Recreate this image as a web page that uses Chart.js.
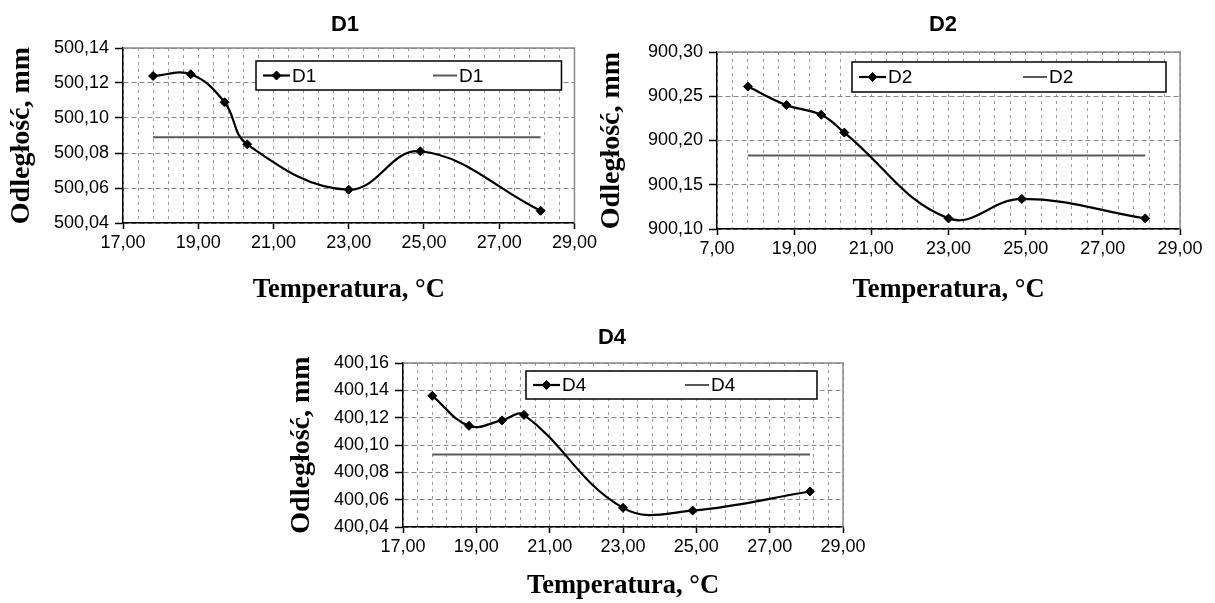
<!DOCTYPE html>
<html><head><meta charset="utf-8">
<script src="https://cdn.jsdelivr.net/npm/chart.js@4"></script>
<style>
html,body{margin:0;padding:0;background:#fff;width:1215px;height:603px;overflow:hidden}
.box{position:absolute}
canvas{display:block}
</style></head><body>
<div class="box" style="left:0px;top:0px"><canvas id="c1" width="600" height="310"></canvas></div>
<div class="box" style="left:595px;top:0px"><canvas id="c2" width="620" height="310"></canvas></div>
<div class="box" style="left:285px;top:310px"><canvas id="c4" width="600" height="293"></canvas></div>
<script>
// ---- data ----
const temperatures = [17.8, 18.8, 19.7, 20.3, 23.0, 24.9, 28.1];
const d1Values = [500.124, 500.125, 500.109, 500.085, 500.059, 500.081, 500.047];
const d1Mean = 500.089;
const d2Values = [900.261, 900.240, 900.229, 900.209, 900.112, 900.134, 900.112];
const d2Mean = 900.183;
const d4Values = [400.136, 400.114, 400.118, 400.122, 400.054, 400.052, 400.066];
const d4Mean = 400.093;
const xTickLabelsD1 = ["17,00", "19,00", "21,00", "23,00", "25,00", "27,00", "29,00"];
const xTickLabelsD2 = ["7,00", "19,00", "21,00", "23,00", "25,00", "27,00", "29,00"];
const xTickLabelsD4 = ["17,00", "19,00", "21,00", "23,00", "25,00", "27,00", "29,00"];
const yTickLabelsD1 = ["500,04", "500,06", "500,08", "500,10", "500,12", "500,14"];
const yTickLabelsD2 = ["900,10", "900,15", "900,20", "900,25", "900,30"];
const yTickLabelsD4 = ["400,04", "400,06", "400,08", "400,10", "400,12", "400,14", "400,16"];
const xAxisTitle = "Temperatura, °C";
const yAxisTitle = "Odległość, mm";

Chart.defaults.font.family = "'Liberation Sans', Arial, sans-serif";
Chart.defaults.color = '#000';

const framePlugin = {
  id: 'frame',
  beforeDatasetsDraw(chart) {
    const {ctx, chartArea: a} = chart;
    ctx.save();
    ctx.strokeStyle = '#8a8a8a';
    ctx.lineWidth = 1.5;
    ctx.beginPath();
    ctx.moveTo(a.left, a.top); ctx.lineTo(a.right, a.top); ctx.lineTo(a.right, a.bottom);
    ctx.stroke();
    ctx.restore();
  }
};

const boxLegendPlugin = {
  id: 'boxLegend',
  afterDatasetsDraw(chart, args, opts) {
    const {ctx, chartArea: a} = chart;
    const ds = chart.data.datasets;
    const x0 = a.left + opts.dl, x1 = a.right - opts.dr, y0 = a.top + opts.dt, h = opts.h;
    const cy = y0 + h / 2;
    ctx.save();
    ctx.fillStyle = '#fff';
    ctx.fillRect(x0, y0, x1 - x0, h);
    ctx.strokeStyle = '#000';
    ctx.lineWidth = 1.5;
    ctx.strokeRect(x0, y0, x1 - x0, h);
    ctx.font = "19px 'Liberation Sans', Arial, sans-serif";
    ctx.textBaseline = 'middle';
    ctx.textAlign = 'left';
    // item 1: series with marker
    let lx = x0 + 7;
    ctx.strokeStyle = ds[0].borderColor; ctx.lineWidth = 2.2;
    ctx.beginPath(); ctx.moveTo(lx, cy); ctx.lineTo(lx + 27, cy); ctx.stroke();
    ctx.fillStyle = '#000'; ctx.lineWidth = 1;
    Chart.helpers.drawPoint(ctx, {pointStyle: 'rectRot', radius: 4.5, borderWidth: 1}, lx + 13.5, cy);
    ctx.fillStyle = '#000';
    ctx.fillText(ds[0].label, lx + 29, cy + 1);
    // item 2: mean line
    lx = x0 + opts.item2;
    ctx.strokeStyle = ds[1].borderColor; ctx.lineWidth = 2;
    ctx.beginPath(); ctx.moveTo(lx, cy); ctx.lineTo(lx + 24, cy); ctx.stroke();
    ctx.fillStyle = '#000';
    ctx.fillText(ds[1].label, lx + 26, cy + 1);
    ctx.restore();
  }
};

const chartTitlePlugin = {
  id: 'chartTitle',
  afterDraw(chart, args, opts) {
    const {ctx} = chart;
    ctx.save();
    ctx.font = "bold 22px 'Liberation Sans', Arial, sans-serif";
    ctx.fillStyle = '#000';
    ctx.textAlign = 'center';
    ctx.textBaseline = 'middle';
    ctx.fillText(opts.text, opts.x, opts.y);
    ctx.restore();
  }
};

function makeChart(id, cfg) {
  const seriesPts = temperatures.map((t, i) => ({x: t, y: cfg.values[i]}));
  const meanPts = [
    {x: temperatures[0], y: cfg.mean},
    {x: temperatures[temperatures.length - 1], y: cfg.mean}
  ];
  new Chart(document.getElementById(id), {
    type: 'line',
    data: {
      datasets: [
        {label: cfg.name, data: seriesPts, borderColor: '#000', backgroundColor: '#000',
         borderWidth: 2.2, tension: 0.4, pointStyle: 'rectRot', pointRadius: 4.5,
         pointBorderWidth: 1, pointBorderColor: '#000', pointBackgroundColor: '#000'},
        {label: cfg.name, data: meanPts, borderColor: '#5a5a5a', borderWidth: 2,
         pointRadius: 0, tension: 0}
      ]
    },
    options: {
      responsive: false,
      animation: false,
      parsing: false,
      layout: {padding: cfg.padding},
      plugins: {
        legend: {display: false},
        tooltip: {enabled: false},
        title: {display: false},
        boxLegend: cfg.legend,
        chartTitle: cfg.title
      },
      scales: {
        x: {
          type: 'linear', min: 17, max: 29,
          afterFit: (s) => { s.height = cfg.xHeight; },
          ticks: {
            stepSize: 0.4, autoSkip: false, maxRotation: 0, padding: 3,
            font: {size: 18},
            callback: (v, i) => (i % 5 === 0 ? cfg.xLabels[i / 5] : '')
          },
          grid: {
            color: '#9a9a9a', lineWidth: 1, tickLength: 6,
            tickColor: (c) => (c.index % 5 === 0 ? '#000' : 'rgba(0,0,0,0)'),
            tickWidth: 1.5
          },
          border: {color: '#000', width: 1.5, dash: [3, 4]},
          title: {display: true, text: xAxisTitle, padding: {top: 0, bottom: cfg.xTitlePad},
                  font: {family: "'Liberation Serif', 'Times New Roman', serif", size: 26.5, weight: 'bold'}}
        },
        y: {
          type: 'linear', min: cfg.yMin, max: cfg.yMax,
          afterFit: (s) => { s.width = cfg.yWidth; },
          ticks: {
            stepSize: cfg.yStep, padding: 6, font: {size: 18},
            callback: (v, i) => cfg.yLabels[i]
          },
          grid: {color: '#858585', lineWidth: 1, tickLength: 8, tickColor: '#000', tickWidth: 1.5},
          border: {color: '#000', width: 1.5, dash: [5, 3]},
          title: {display: true, text: yAxisTitle, padding: {top: cfg.yTitlePad, bottom: 0},
                  font: {family: "'Liberation Serif', 'Times New Roman', serif", size: 28, weight: 'bold'}}
        }
      }
    },
    plugins: [framePlugin, boxLegendPlugin, chartTitlePlugin]
  });
}

makeChart('c1', {
  name: 'D1', values: d1Values, mean: d1Mean, xLabels: xTickLabelsD1, yLabels: yTickLabelsD1,
  yMin: 500.04, yMax: 500.14, yStep: 0.02,
  padding: {left: 0, right: 24, top: 48, bottom: 0}, yWidth: 123, xHeight: 87,
  xTitlePad: 4, yTitlePad: 5,
  legend: {dl: 133, dr: 13, dt: 13, h: 29, item2: 177},
  title: {text: 'D1', x: 345, y: 25}
});
makeChart('c2', {
  name: 'D2', values: d2Values, mean: d2Mean, xLabels: xTickLabelsD2, yLabels: yTickLabelsD2,
  yMin: 900.10, yMax: 900.30, yStep: 0.05,
  padding: {left: 0, right: 35, top: 52, bottom: 0}, yWidth: 122, xHeight: 81,
  xTitlePad: 4, yTitlePad: 0,
  legend: {dl: 135, dr: 14, dt: 10, h: 30, item2: 171},
  title: {text: 'D2', x: 348, y: 25}
});
makeChart('c4', {
  name: 'D4', values: d4Values, mean: d4Mean, xLabels: xTickLabelsD4, yLabels: yTickLabelsD4,
  yMin: 400.04, yMax: 400.16, yStep: 0.02,
  padding: {left: 0, right: 42, top: 53, bottom: 0}, yWidth: 118, xHeight: 76,
  xTitlePad: 1, yTitlePad: 0,
  legend: {dl: 123, dr: 26, dt: 8, h: 28, item2: 159},
  title: {text: 'D4', x: 327, y: 28}
});
</script>
</body></html>
